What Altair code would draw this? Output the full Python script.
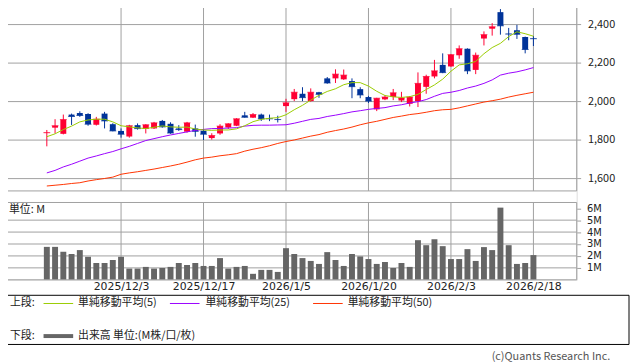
import altair as alt
import pandas as pd

# ---------------- data ----------------
dates = ["2025/11/19","2025/11/20","2025/11/21","2025/11/25","2025/11/26","2025/11/27","2025/11/28","2025/12/1","2025/12/2","2025/12/3",
         "2025/12/4","2025/12/5","2025/12/8","2025/12/9","2025/12/10","2025/12/11","2025/12/12","2025/12/15","2025/12/16","2025/12/17",
         "2025/12/18","2025/12/19","2025/12/22","2025/12/23","2025/12/24","2025/12/25","2025/12/26","2025/12/29","2025/12/30","2026/1/5",
         "2026/1/6","2026/1/7","2026/1/8","2026/1/9","2026/1/13","2026/1/14","2026/1/15","2026/1/16","2026/1/19","2026/1/20",
         "2026/1/21","2026/1/22","2026/1/23","2026/1/26","2026/1/27","2026/1/28","2026/1/29","2026/1/30","2026/2/2","2026/2/3",
         "2026/2/4","2026/2/5","2026/2/6","2026/2/9","2026/2/10","2026/2/12","2026/2/13","2026/2/16","2026/2/17","2026/2/18"]

opens = [1834,1862,1830,1930,1938,1933,1877,1935,1880,1845,
         1816,1875,1855,1858,1897,1882,1858,1841,1858,1846,
         1808,1832,1863,1872,1926,1914,1930,1910,1906,1974,
         2010,2038,2000,2046,2118,2118,2113,2104,2062,2021,
         1957,2009,2021,2003,1986,2000,2074,2128,2188,2180,
         2238,2272,2162,2325,2376,2462,2350,2368,2333,2326]
highs = [1850,1906,1930,1935,1947,1937,1918,1944,1885,1858,
         1877,1884,1880,1892,1902,1890,1875,1892,1878,1855,
         1833,1880,1885,1911,1944,1938,1935,1930,1924,2012,
         2063,2072,2066,2048,2125,2165,2164,2118,2072,2027,
         2017,2030,2063,2048,2026,2149,2137,2214,2248,2244,
         2289,2274,2252,2362,2405,2478,2380,2396,2335,2338]
lows = [1765,1832,1827,1876,1918,1872,1873,1858,1843,1810,
        1810,1852,1832,1855,1862,1830,1845,1836,1815,1798,
        1800,1825,1855,1870,1914,1912,1897,1896,1889,1944,
        2000,2000,1997,2017,2090,2094,2110,2015,2015,1990,
        1948,2005,2005,1995,1972,1969,2038,2118,2145,2178,
        2220,2140,2140,2289,2340,2345,2316,2323,2248,2286]
closes = [1836,1872,1904,1920,1925,1880,1906,1897,1845,1828,
          1872,1857,1877,1887,1866,1834,1852,1887,1843,1828,
          1821,1870,1882,1908,1916,1930,1908,1908,1904,1991,
          2046,2018,2046,2035,2094,2140,2135,2075,2032,2000,
          2015,2021,2043,2016,2021,2092,2128,2157,2148,2241,
          2272,2157,2238,2345,2386,2391,2348,2347,2268,2324]

ma5 = [1815,1830,1852,1870,1892,1902,1906,1906,1892,1872,
       1866,1861,1857,1864,1871,1866,1864,1865,1855,1850,
       1848,1850,1850,1856,1872,1893,1905,1911,1914,1929,
       1955,1978,2005,2030,2050,2064,2085,2096,2096,2078,
       2051,2029,2022,2019,2023,2035,2060,2084,2114,2155,
       2188,2194,2206,2246,2278,2300,2335,2360,2350,2337]
ma25 = [1627,1640,1658,1672,1688,1704,1715,1727,1738,1752,
        1765,1780,1795,1805,1815,1824,1832,1840,1848,1853,
        1857,1858,1860,1862,1870,1874,1875,1875,1876,1877,
        1885,1895,1905,1910,1920,1927,1935,1944,1950,1957,
        1962,1966,1975,1981,1990,1997,2008,2025,2040,2046,
        2055,2068,2078,2092,2110,2135,2145,2152,2162,2174]
ma50 = [1559,1563,1567,1572,1576,1585,1592,1598,1605,1620,
        1627,1633,1640,1647,1655,1663,1672,1683,1695,1704,
        1709,1716,1721,1727,1740,1750,1758,1768,1780,1790,
        1798,1808,1818,1826,1838,1847,1855,1865,1877,1887,
        1895,1905,1915,1922,1930,1935,1942,1950,1955,1957,
        1965,1975,1985,1995,2002,2010,2021,2030,2038,2046]

volumes = [2.76,2.76,2.35,2.16,2.49,1.93,1.41,1.41,1.66,1.93,
           0.94,0.94,1.08,0.94,0.99,1.08,1.41,1.24,1.41,1.16,
           1.16,1.82,0.94,1.08,1.16,0.50,0.83,0.83,0.66,2.65,
           2.16,1.82,1.58,1.33,2.32,1.66,1.16,2.16,1.96,1.74,
           1.33,1.49,0.99,1.41,1.08,3.32,2.90,3.40,2.82,1.74,
           1.74,2.57,1.58,2.74,2.49,6.05,2.90,1.33,1.41,2.07]

label_dates = ["2025/12/3","2025/12/17","2026/1/5","2026/1/20","2026/2/3","2026/2/18"]
price_ticks = [1600, 1800, 2000, 2200, 2400]
vol_ticks = [1, 2, 3, 4, 5, 6]
vol_grid = [1, 2, 3, 4, 5]

legend_top_label = "上段:"
legend_bottom_label = "下段:"
ma_names = ["単純移動平均(5)", "単純移動平均(25)", "単純移動平均(50)"]
volume_name = "出来高 単位:(M株/口/枚)"
unit_text = "単位: M"
copyright_text = "(c)Quants Research Inc."

# ---------------- styles / layout ----------------
FONT = "Noto Sans CJK JP"
LATIN = "DejaVu Sans"
RED, BLUE = "#ff0033", "#003399"
C5, C25, C50 = "#99cc00", "#9900ff", "#ff3300"
GRID = "#a0a0a0"
VOLC = "#666666"
TXT = "#222222"
W, H = 580, 280
PRICE_BOTTOM = 190
VOL_TOP = 201.7

n = len(dates)
df = pd.DataFrame({
    "i": list(range(n)), "date": dates,
    "open": opens, "high": highs, "low": lows, "close": closes,
    "ma5": ma5, "ma25": ma25, "ma50": ma50, "vol": volumes,
})
df["dir"] = ["up" if c >= o else "down" for o, c in zip(opens, closes)]

label_idx = [dates.index(d) for d in label_dates]
grid_df = pd.DataFrame({"i": label_idx})
one = pd.DataFrame({"k": [0]})

xs = alt.Scale(domain=[-4.588, 63.647], nice=False, zero=False)
label_expr = "[" + ",".join("'%s'" % d for d in dates) + "][datum.value]"
xax = alt.Axis(values=label_idx, labelExpr=label_expr, grid=False, ticks=False,
               domain=False, title=None, labelFont=LATIN, labelFontSize=11,
               labelColor=TXT, labelPadding=1, labelFlush=False, labelOverlap=False)
X = alt.X("i:Q", scale=xs, axis=xax)

ps = alt.Scale(domain=[1600, 2400], range=[177, 21], nice=False, zero=False)
pax = alt.Axis(orient="right", values=price_ticks, labelExpr="format(datum.value, ',')",
               grid=True, gridColor=GRID, gridWidth=1, tickColor=GRID, tickSize=4,
               domain=False, labelPadding=7, labelFont=FONT, labelFontSize=11,
               labelColor=TXT, title=None, labelFlush=False, labelOverlap=False)

def PY(field):
    return alt.Y(field, scale=ps, axis=pax)

vs = alt.Scale(domain=[0, 6], range=[280, 207.5], nice=False)
vax = alt.Axis(orient="right", values=vol_ticks, labelExpr="datum.value + 'M'",
               grid=False, tickColor=GRID, tickSize=4, domain=False,
               labelPadding=6, labelFont=LATIN, labelFontSize=10, labelColor=TXT,
               title=None, labelFlush=False, labelOverlap=False)

def VY(field):
    return alt.Y(field, scale=vs, axis=vax)

color = alt.Color("dir:N", scale=alt.Scale(domain=["up", "down"], range=[RED, BLUE]), legend=None)

# ---------------- price panel ----------------
p_vgrid = alt.Chart(grid_df).mark_rule(color=GRID, strokeWidth=1).encode(
    x=X, y=alt.value(0), y2=alt.value(PRICE_BOTTOM))
wicks = alt.Chart(df).mark_rule(strokeWidth=1).encode(
    x=X, y=PY("low:Q"), y2=alt.Y2("high:Q"), color=color)
bodies = alt.Chart(df).mark_bar(size=6).encode(
    x=X, y=PY("open:Q"), y2=alt.Y2("close:Q"), color=color)
doji = alt.Chart(df).mark_tick(orient="horizontal", thickness=1, size=7).encode(
    x=X, y=PY("close:Q"), color=color)
l50 = alt.Chart(df).mark_line(color=C50, strokeWidth=1).encode(x=X, y=PY("ma50:Q"))
l25 = alt.Chart(df).mark_line(color=C25, strokeWidth=1).encode(x=X, y=PY("ma25:Q"))
l5 = alt.Chart(df).mark_line(color=C5, strokeWidth=1).encode(x=X, y=PY("ma5:Q"))
p_border = alt.Chart(one).mark_rect(fillOpacity=0, stroke=GRID, strokeWidth=1).encode(
    x=alt.value(0), x2=alt.value(W), y=alt.value(0), y2=alt.value(PRICE_BOTTOM))
price = alt.layer(p_vgrid, wicks, bodies, doji, l50, l25, l5, p_border)

# ---------------- volume panel ----------------
vgrid_df = pd.DataFrame({"g": vol_grid})
v_hgrid = alt.Chart(vgrid_df).mark_rule(color=GRID, strokeWidth=1).encode(
    y=VY("g:Q"), x=alt.value(0), x2=alt.value(W))
v_vgrid = alt.Chart(grid_df).mark_rule(color=GRID, strokeWidth=1).encode(
    x=X, y=alt.value(VOL_TOP), y2=alt.value(H))
vbars = alt.Chart(df).mark_bar(size=6, color=VOLC).encode(x=X, y=VY("vol:Q"))
v_border = alt.Chart(one).mark_rect(fillOpacity=0, stroke=GRID, strokeWidth=1).encode(
    x=alt.value(0), x2=alt.value(W), y=alt.value(VOL_TOP), y2=alt.value(H))
unit = alt.Chart(one).mark_text(text=unit_text, font=FONT, fontSize=11, color=TXT,
                                align="left", baseline="middle").encode(
    x=alt.value(5), y=alt.value(209))
volume = alt.layer(v_hgrid, v_vgrid, vbars, v_border, unit)

# ---------------- legend box & credit ----------------
deco = []
deco.append(alt.Chart(one).mark_rect(fillOpacity=0, stroke="#000000", strokeWidth=1).encode(
    x=alt.value(0), x2=alt.value(633), y=alt.value(295.7), y2=alt.value(345.5)))
ROW1, ROW2 = 304, 337
def txt(s, x, y, c=TXT, align="left"):
    return alt.Chart(one).mark_text(text=s, font=FONT, fontSize=11, color=c,
                                    align=align, baseline="middle").encode(
        x=alt.value(x), y=alt.value(y))
def seg(x1, x2, y, c, w):
    return alt.Chart(one).mark_rule(color=c, strokeWidth=w).encode(
        x=alt.value(x1), x2=alt.value(x2), y=alt.value(y))
deco.append(txt(legend_top_label, 6, ROW1))
for name, c, lx, tx in zip(ma_names, [C5, C25, C50], [40, 168, 313], [75, 204, 348]):
    deco.append(seg(lx, lx + 30, ROW1, c, 1))
    deco.append(txt(name, tx, ROW1))
deco.append(txt(legend_bottom_label, 6, ROW2))
deco.append(seg(40, 70, ROW2, VOLC, 4))
deco.append(txt(volume_name, 75, ROW2))
deco.append(txt(copyright_text, 614, 358, c="#555555", align="right"))
decor = alt.layer(*deco)

chart = alt.layer(price, volume, decor).resolve_scale(y="independent").properties(
    width=W, height=H,
    padding={"left": -5, "top": -8, "right": 0, "bottom": 0},
).configure_view(stroke=None).configure(font=FONT)

chart.save("out.html", embed_options={"renderer": "svg", "actions": False})
